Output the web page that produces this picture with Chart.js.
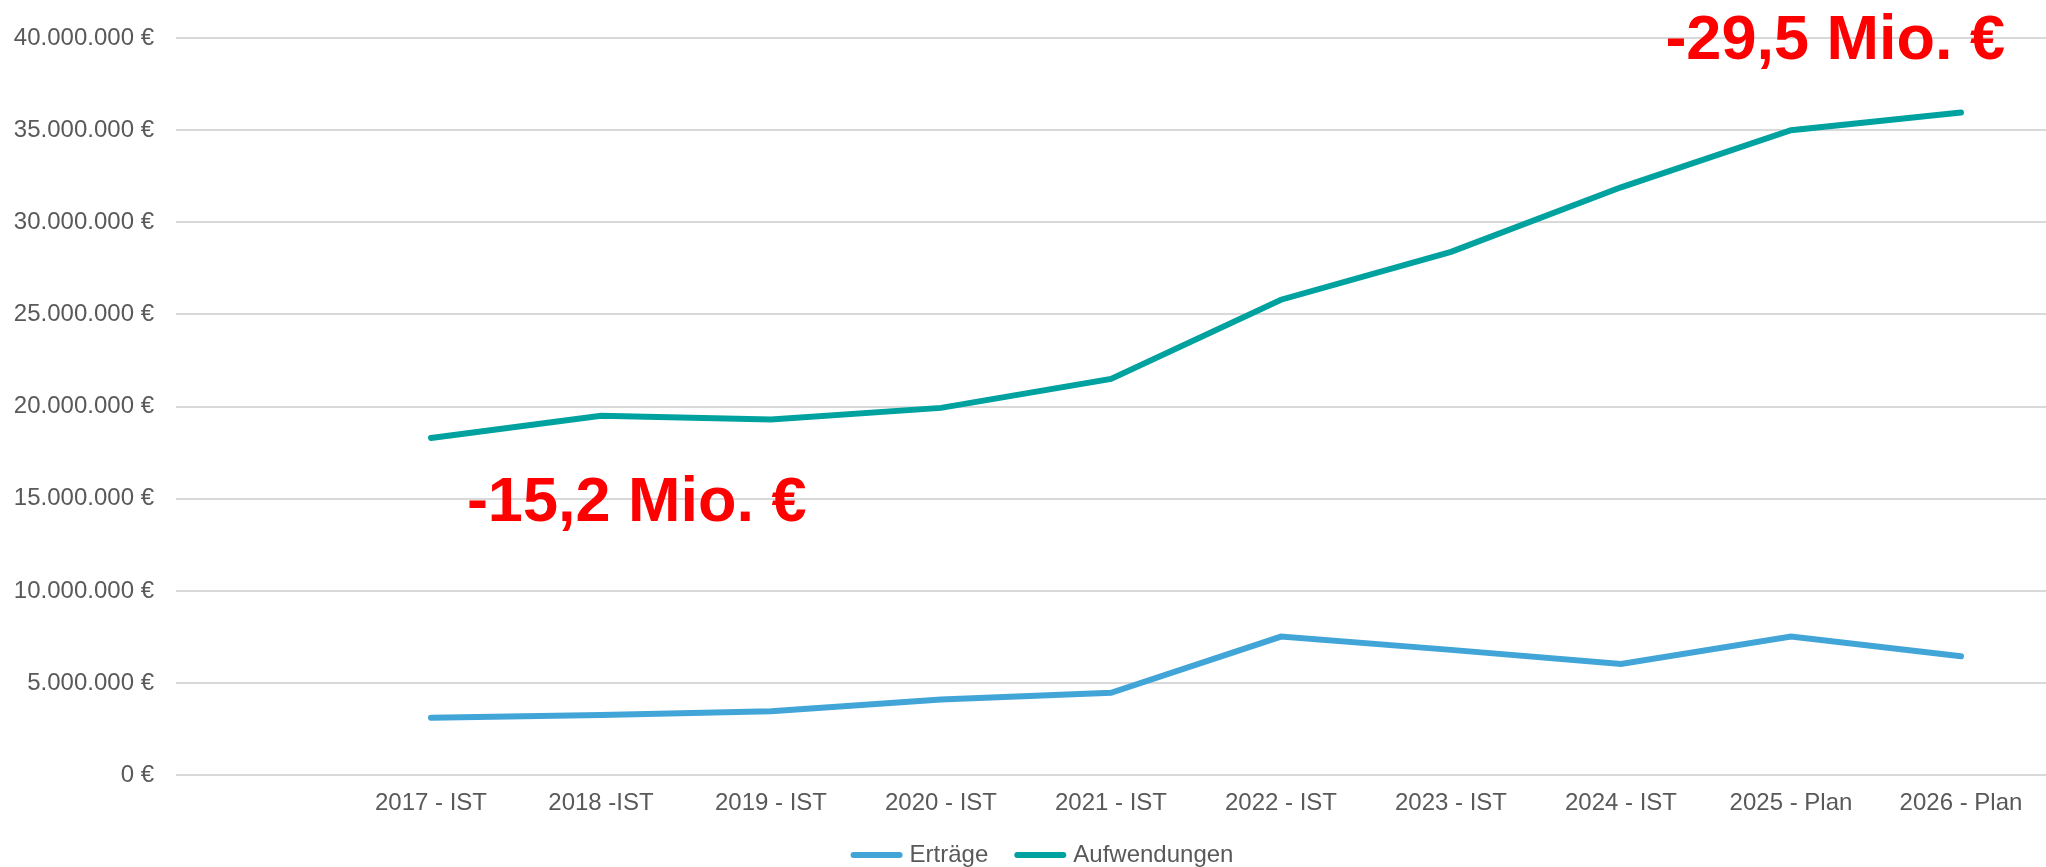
<!DOCTYPE html>
<html>
<head>
<meta charset="utf-8">
<script src="https://cdn.jsdelivr.net/npm/chart.js@4/dist/chart.umd.min.js"></script>
<style>
  html, body { margin: 0; padding: 0; background: #ffffff; }
  #wrap { width: 2046px; height: 867px; }
</style>
</head>
<body>
<div id="wrap"><canvas id="chart"></canvas></div>
<script>
// Kategorien (erste Kategorie leer, wie im Original)
const categories = ['', '2017 - IST', '2018 -IST', '2019 - IST', '2020 - IST', '2021 - IST',
  '2022 - IST', '2023 - IST', '2024 - IST', '2025 - Plan', '2026 - Plan'];

// Werte in Euro
const ertraege = [null, 3120000, 3260000, 3470000, 4110000, 4470000,
  7520000, 6800000, 6030000, 7520000, 6450000];
const aufwendungen = [null, 18300000, 19500000, 19300000, 19930000, 21500000,
  25800000, 28400000, 31900000, 35000000, 35960000];

// Hinweise (Defizit)
const notes = [
  { text: '-15,2 Mio. €', category: 2, shift: 0.21, value: 14750000 },
  { text: '-29,5 Mio. €', category: 9, shift: 0.26, value: 39830000 }
];

const colors = {
  ertraege: '#42a5d8',
  aufwendungen: '#00a29f',
  text: '#595959',
  grid: '#d9d9d9',
  note: '#ff0000'
};

const fmtEuro = (v) => v.toLocaleString('de-DE') + ' €';
const FONT = '"Liberation Sans", Arial, sans-serif';

// Plugin für die roten Hinweise
const notesPlugin = {
  id: 'notes',
  afterDatasetsDraw(chart) {
    const { ctx, scales } = chart;
    const step = scales.x.getPixelForValue(1) - scales.x.getPixelForValue(0);
    ctx.save();
    ctx.fillStyle = colors.note;
    ctx.font = 'bold 63px ' + FONT;
    ctx.textAlign = 'center';
    ctx.textBaseline = 'middle';
    notes.forEach((n) => {
      const x = scales.x.getPixelForValue(n.category) + n.shift * step;
      const y = scales.y.getPixelForValue(n.value);
      ctx.fillText(n.text, x, y);
    });
    ctx.restore();
  }
};

// eigene Legende (Linien-Symbol + Text), unten zentriert
const legendPlugin = {
  id: 'lineLegend',
  afterDraw(chart) {
    const { ctx } = chart;
    const boxW = 52, boxH = 6, gap = 7, itemGap = 26;
    ctx.save();
    ctx.font = '24px ' + FONT;
    ctx.textBaseline = 'middle';
    const items = chart.data.datasets.map((ds) => ({
      label: ds.label,
      color: ds.borderColor,
      w: boxW + gap + ctx.measureText(ds.label).width
    }));
    const total = items.reduce((s, it) => s + it.w, 0) + itemGap * (items.length - 1);
    const cx = chart.width / 2 + 19;
    const y = chart.height - 12;
    let x = cx - total / 2;
    items.forEach((it) => {
      ctx.strokeStyle = it.color;
      ctx.lineWidth = boxH;
      ctx.lineCap = 'round';
      ctx.beginPath();
      ctx.moveTo(x + boxH / 2, y);
      ctx.lineTo(x + boxW - boxH / 2, y);
      ctx.stroke();
      ctx.fillStyle = colors.text;
      ctx.fillText(it.label, x + boxW + gap, y);
      x += it.w + itemGap;
    });
    ctx.restore();
  }
};

Chart.defaults.font.family = FONT;
Chart.defaults.font.size = 24;
Chart.defaults.color = colors.text;

new Chart(document.getElementById('chart'), {
  type: 'line',
  data: {
    labels: categories,
    datasets: [
      {
        label: 'Erträge',
        data: ertraege,
        borderColor: colors.ertraege,
        backgroundColor: colors.ertraege,
        borderWidth: 6,
        pointRadius: 0,
        borderCapStyle: 'round',
        tension: 0
      },
      {
        label: 'Aufwendungen',
        data: aufwendungen,
        borderColor: colors.aufwendungen,
        backgroundColor: colors.aufwendungen,
        borderWidth: 6,
        pointRadius: 0,
        borderCapStyle: 'round',
        tension: 0
      }
    ]
  },
  options: {
    responsive: true,
    maintainAspectRatio: false,
    animation: false,
    layout: { padding: { top: 38, right: 0, bottom: 35, left: 0 } },
    plugins: {
      title: { display: false },
      tooltip: { enabled: false },
      legend: { display: false }
    },
    scales: {
      x: {
        offset: true,
        grid: { display: false, drawTicks: false },
        border: { display: false },
        ticks: { padding: 14, maxRotation: 0, autoSkip: false, color: colors.text }
      },
      y: {
        min: 0,
        max: 40000000,
        grid: { color: colors.grid, lineWidth: 2, drawTicks: false },
        border: { display: false },
        afterFit(scale) { scale.width = 176; },
        ticks: {
          stepSize: 5000000,
          padding: 22,
          color: colors.text,
          callback: (v) => fmtEuro(v)
        }
      }
    }
  },
  plugins: [notesPlugin, legendPlugin]
});
</script>
</body>
</html>
